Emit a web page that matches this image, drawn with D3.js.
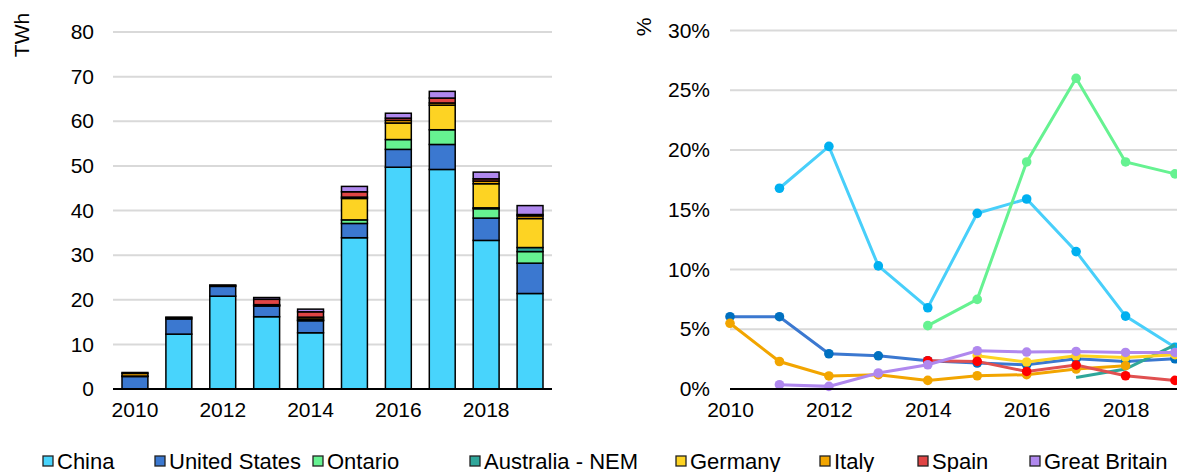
<!DOCTYPE html>
<html>
<head>
<meta charset="utf-8">
<script src="https://cdn.jsdelivr.net/npm/d3@7"></script>
<style>
  body { margin: 0; background: #fff; }
  svg { font-family: "Liberation Sans", Arial, sans-serif; }
  .tick text { font-size: 21px; fill: #000; }
</style>
</head>
<body>
<div id="chart"></div>
<script>
const years = [2010, 2011, 2012, 2013, 2014, 2015, 2016, 2017, 2018, 2019]
const yearLabels = [2010, 2012, 2014, 2016, 2018]
const seriesNames = ['China', 'United States', 'Ontario', 'Australia - NEM', 'Germany', 'Italy', 'Spain', 'Great Britain']

// curtailed energy, TWh (stacked bars)
const barChina = [0, 12.3, 20.8, 16.2, 12.6, 33.9, 49.7, 49.2, 33.3, 21.4]
const barUS = [2.8, 3.4, 2.2, 2.4, 2.7, 3.2, 4.0, 5.6, 5.0, 6.8]
const barOntario = [0, 0, 0, 0, 0.1, 0.8, 2.2, 3.3, 2.1, 2.6]
const barAustralia = [0, 0, 0, 0, 0, 0, 0, 0, 0.2, 0.9]
const barGermany = [0.1, 0, 0, 0.1, 0.3, 4.8, 3.7, 5.5, 5.4, 6.5]
const barItaly = [0.6, 0.3, 0.2, 0.2, 0.4, 0.3, 0.6, 0.5, 0.6, 0.6]
const barSpain = [0.2, 0.1, 0.1, 1.2, 1.2, 1.2, 0.5, 1.1, 0.5, 0.3]
const barGB = [0, 0, 0, 0.4, 0.6, 1.2, 1.1, 1.5, 1.5, 2.0]

// curtailment rate, % (lines)
const pctChina = [null, 16.8, 20.3, 10.3, 6.8, 14.7, 15.9, 11.5, 6.1, 3.5]
const pctUS = [6.05, 6.05, 2.95, 2.78, 2.37, 2.17, 2.03, 2.53, 2.31, 2.53]
const pctOntario = [null, null, null, null, 5.3, 7.5, 19.0, 26.0, 19.0, 18.0]
const pctAustralia = [null, null, null, null, null, null, null, 0.97, 1.67, 3.7]
const pctGermany = [null, null, null, null, null, 2.78, 2.26, 2.78, 2.64, 2.87]
const pctItaly = [5.5, 2.3, 1.09, 1.2, 0.72, 1.11, 1.2, 1.67, 1.95, null]
const pctSpain = [null, null, null, null, 2.37, 2.31, 1.47, 2.0, 1.11, 0.72]
const pctGB = [null, 0.36, 0.22, 1.34, 2.03, 3.2, 3.09, 3.14, 3.06, 3.06]

const fillColors = ['#48d4fc', '#3b78d0', '#66f291', '#2fa69a', '#fdd323', '#f2a500', '#e04545', '#b088ee']
const lineColors = ['#48cffa', '#3b78d0', '#66f291', '#2fa69a', '#fdd323', '#f2a500', '#e05050', '#b088ee']
const dotColors = ['#00b0f0', '#0070c0', '#66f291', '#2fa69a', '#fdd323', '#f2a500', '#ff0000', '#b088ee']

const barSeries = [barChina, barUS, barOntario, barAustralia, barGermany, barItaly, barSpain, barGB]
const pctSeries = [pctChina, pctUS, pctOntario, pctAustralia, pctGermany, pctItaly, pctSpain, pctGB]

const svg = d3.select('#chart').append('svg')
    .attr('width', 1177)
    .attr('height', 472)

// ---------- left: stacked bars ----------
const barTable = years.map((y, i) => {
    let row = {year: y}
    seriesNames.forEach((s, j) => row[s] = barSeries[j][i])
    return row
})
const stacked = d3.stack().keys(seriesNames)(barTable)

const xBar = d3.scaleBand().domain(years).range([113, 552]).paddingInner(0.41).paddingOuter(0.205)
const yBar = d3.scaleLinear().domain([0, 80]).range([389, 32])

const left = svg.append('g')

left.append('g')
    .selectAll('line')
    .data(yBar.ticks(8).filter(d => d > 0))
    .join('line')
    .attr('x1', 113).attr('x2', 552)
    .attr('y1', d => yBar(d)).attr('y2', d => yBar(d))
    .attr('stroke', '#d9d9d9').attr('stroke-width', 2)

const yAxisL = left.append('g')
    .attr('transform', 'translate(113,0)')
    .call(d3.axisLeft(yBar).ticks(8).tickSize(0).tickPadding(19))
yAxisL.select('.domain').remove()

left.selectAll('.layer')
    .data(stacked)
    .join('g')
    .attr('class', 'layer')
    .attr('fill', (d, i) => fillColors[i])
    .selectAll('rect')
    .data(d => d.filter(p => p[1] - p[0] > 0))
    .join('rect')
    .attr('x', d => xBar(d.data.year))
    .attr('width', xBar.bandwidth())
    .attr('y', d => yBar(d[1]))
    .attr('height', d => yBar(d[0]) - yBar(d[1]))
    .attr('stroke', '#000')
    .attr('stroke-width', 1.5)

left.append('line')
    .attr('x1', 113).attr('x2', 552)
    .attr('y1', 389).attr('y2', 389)
    .attr('stroke', '#000').attr('stroke-width', 2)

const xAxisL = left.append('g')
    .attr('transform', 'translate(0,389)')
    .call(d3.axisBottom(xBar).tickValues(yearLabels).tickSize(0).tickPadding(13))
xAxisL.select('.domain').remove()

left.append('text')
    .attr('transform', 'translate(29,35) rotate(-90)')
    .attr('text-anchor', 'middle')
    .attr('font-size', 21)
    .text('TWh')

// ---------- right: lines ----------
const xLine = d3.scaleLinear().domain([2010, 2019]).range([730, 1175])
const yLine = d3.scaleLinear().domain([0, 30]).range([389, 30.5])

const right = svg.append('g')

right.append('g')
    .selectAll('line')
    .data(d3.range(5, 31, 5))
    .join('line')
    .attr('x1', 730).attr('x2', 1177)
    .attr('y1', d => yLine(d)).attr('y2', d => yLine(d))
    .attr('stroke', '#d9d9d9').attr('stroke-width', 2)

const yAxisR = right.append('g')
    .attr('transform', 'translate(730,0)')
    .call(d3.axisLeft(yLine).tickValues(d3.range(0, 31, 5)).tickFormat(d => d + '%').tickSize(0).tickPadding(20))
yAxisR.select('.domain').remove()

const line = d3.line()
    .defined(d => d.v != null)
    .x(d => xLine(d.year))
    .y(d => yLine(d.v))

pctSeries.forEach((vals, i) => {
    const pts = years.map((y, k) => ({year: y, v: vals[k]}))
    const g = right.append('g')
    g.append('path')
        .datum(pts)
        .attr('d', line)
        .attr('fill', 'none')
        .attr('stroke', lineColors[i])
        .attr('stroke-width', 3)
    if (seriesNames[i] !== 'Australia - NEM') {
        g.selectAll('circle')
            .data(pts.filter(d => d.v != null))
            .join('circle')
            .attr('cx', d => xLine(d.year))
            .attr('cy', d => yLine(d.v))
            .attr('r', 4.8)
            .attr('fill', dotColors[i])
    }
})

right.append('line')
    .attr('x1', 730).attr('x2', 1177)
    .attr('y1', 389).attr('y2', 389)
    .attr('stroke', '#000').attr('stroke-width', 2)

const xAxisR = right.append('g')
    .attr('transform', 'translate(0,389)')
    .call(d3.axisBottom(xLine).tickValues(yearLabels).tickFormat(d3.format('d')).tickSize(0).tickPadding(13))
xAxisR.select('.domain').remove()

right.append('text')
    .attr('transform', 'translate(651,27) rotate(-90)')
    .attr('text-anchor', 'middle')
    .attr('font-size', 21)
    .text('%')

// ---------- legend ----------
const legendX = [37, 149, 307, 464, 670, 814, 912, 1024]
const legend = svg.append('g')
    .selectAll('g')
    .data(seriesNames)
    .join('g')
    .attr('transform', (d, i) => `translate(${legendX[i]},455)`)

legend.append('rect')
    .attr('x', 6).attr('y', 1)
    .attr('width', 10).attr('height', 10)
    .attr('fill', (d, i) => fillColors[i])
    .attr('stroke', '#222')
    .attr('stroke-width', 1.3)

legend.append('text')
    .attr('x', 20).attr('y', 13.5)
    .attr('font-size', 22)
    .text(d => d)
</script>
</body>
</html>
